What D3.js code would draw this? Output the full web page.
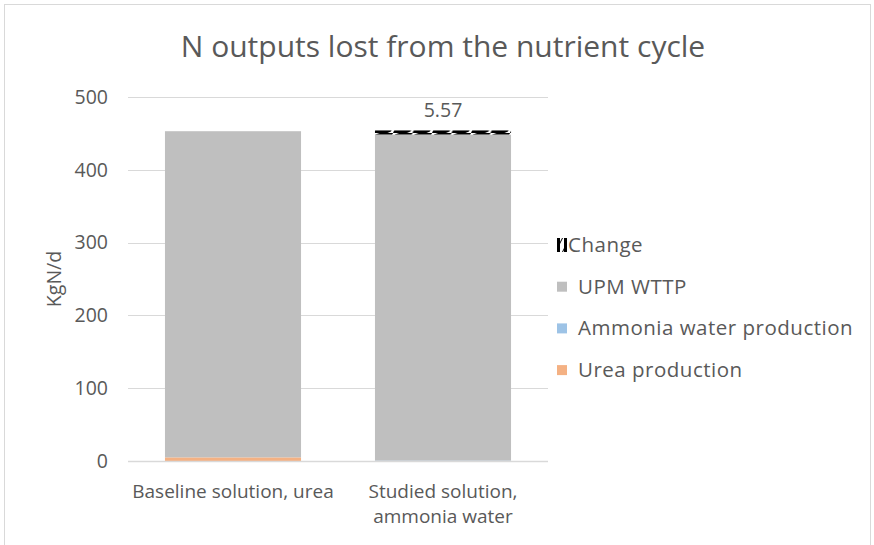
<!DOCTYPE html>
<html><head><meta charset="utf-8">
<script src="https://cdn.jsdelivr.net/npm/d3@7"></script>
<style>body{margin:0;background:#fff;} text{font-family:"Open Sans",sans-serif;fill:#595959;}</style>
</head><body>
<svg id="c" width="874" height="545"></svg>
<script>
const categories = ["Baseline solution, urea", "Studied solution, ammonia water"];
const ureaProduction = [5, 0];
const ammoniaWaterProduction = [0, 0.5];
const upmWttp = [448, 448];
const change = [0, 5.57];
const changeLabels = ["", "5.57"];
const yTicks = [0, 100, 200, 300, 400, 500];
const seriesNames = ["Urea production", "Ammonia water production", "UPM WTTP", "Change"];
const seriesColors = ["#f4b183", "#9dc3e6", "#bfbfbf", "url(#chg)"];

(function(){
const svg = d3.select("#c");
const defs = svg.append("defs");
const pat = defs.append("pattern").attr("id","chg").attr("patternUnits","userSpaceOnUse")
  .attr("width",19.5).attr("height",6).attr("x",3).attr("y",1);
pat.append("rect").attr("width",19.5).attr("height",6).attr("fill","#fff");
pat.append("path").attr("d","M0,6 L2,1.5 L6,0 L19.5,0 L17.5,4.5 L14,6 Z").attr("fill","#000");
const pat2 = defs.append("pattern").attr("id","chgLeg").attr("patternUnits","userSpaceOnUse")
  .attr("width",10).attr("height",14);
pat2.append("rect").attr("width",10).attr("height",14).attr("fill","#fff");
pat2.append("path").attr("d","M0,0 L3,0 L3,14 L0,14 Z M7,0 L10,0 L10,14 L7,14 Z M3,11 L7,3 L7,5 L3,13 Z").attr("fill","#000");

svg.append("rect").attr("x",4.5).attr("y",4.5).attr("width",866).attr("height",560)
  .attr("fill","none").attr("stroke","#d9d9d9");

const x = d3.scaleBand().domain(categories).range([128,548]).paddingInner(0.352).paddingOuter(0.176);
const y = d3.scaleLinear().domain([0,500]).range([461,97]);

svg.append("g").selectAll("line").data(yTicks).join("line")
  .attr("x1",128).attr("x2",548).attr("y1",d=>Math.round(y(d))+0.5).attr("y2",d=>Math.round(y(d))+0.5)
  .attr("stroke","#d9d9d9").attr("stroke-width",1);

const ya = svg.append("g").attr("transform","translate(108,0)")
  .call(d3.axisLeft(y).tickValues(yTicks).tickSize(0).tickPadding(0));
ya.select(".domain").remove();
ya.selectAll("text").attr("font-size",19.5).attr("font-family","Open Sans").attr("fill","#595959");

const rows = categories.map((c,i)=>({cat:c, s0:ureaProduction[i], s1:ammoniaWaterProduction[i], s2:upmWttp[i], s3:change[i]}));
const stack = d3.stack().keys(["s0","s1","s2","s3"])(rows);
svg.append("g").selectAll("g").data(stack).join("g")
  .attr("fill",(d,i)=>seriesColors[i])
  .selectAll("rect").data(d=>d).join("rect")
  .attr("x",d=>x(d.data.cat)).attr("width",x.bandwidth())
  .attr("y",d=>y(d[1])).attr("height",d=>Math.max(0,y(d[0])-y(d[1])));

svg.append("line").attr("x1",128).attr("x2",548).attr("y1",461.5).attr("y2",461.5)
  .attr("stroke","#d9d9d9").attr("stroke-width",1.5);

const topLayer = stack[3];
svg.append("g").selectAll("text").data(topLayer).join("text")
  .attr("x",d=>x(d.data.cat)+x.bandwidth()/2).attr("y",d=>y(d[1])-13)
  .attr("text-anchor","middle").attr("font-size",19.5)
  .text((d,i)=>changeLabels[i]);

const xa = svg.append("g").attr("transform","translate(0,461)")
  .call(d3.axisBottom(x).tickSize(0).tickPadding(0));
xa.select(".domain").remove();
xa.selectAll("text").attr("font-size",19).attr("fill","#595959").attr("dy",null).each(function(d){
  const t = d3.select(this); const words = d.split(" "); t.text(null);
  let lines=[], cur=[];
  const tmp = t.append("tspan");
  words.forEach(w=>{ cur.push(w); tmp.text(cur.join(" "));
    if(tmp.node().getComputedTextLength()>x.step()+4 && cur.length>1){cur.pop(); lines.push(cur.join(" ")); cur=[w];}});
  lines.push(cur.join(" ")); tmp.remove();
  lines.forEach((l,k)=>t.append("tspan").attr("x",0).attr("y",37+k*25).text(l));
});

svg.append("text").attr("x",443).attr("y",57).attr("text-anchor","middle").attr("font-size",30).text("N outputs lost from the nutrient cycle");
svg.append("text").attr("transform","translate(61,279) rotate(-90)").attr("text-anchor","middle").attr("font-size",19.5).text("KgN/d");

const legOrder = [3,2,1,0];
const lg = svg.append("g").selectAll("g").data(legOrder).join("g")
  .attr("transform",(d,k)=>`translate(557,${245+k*41.7})`);
lg.append("rect").attr("x",0).attr("y",d=>d===3?-7:-5).attr("width",10).attr("height",d=>d===3?14:10)
  .attr("fill",d=>d===3?"url(#chgLeg)":seriesColors[d]);
lg.append("text").attr("x",d=>d===3?11:21).attr("y",7).attr("font-size",20.5).attr("letter-spacing",0.5).text(d=>seriesNames[d]);
})();
</script>
</body></html>
